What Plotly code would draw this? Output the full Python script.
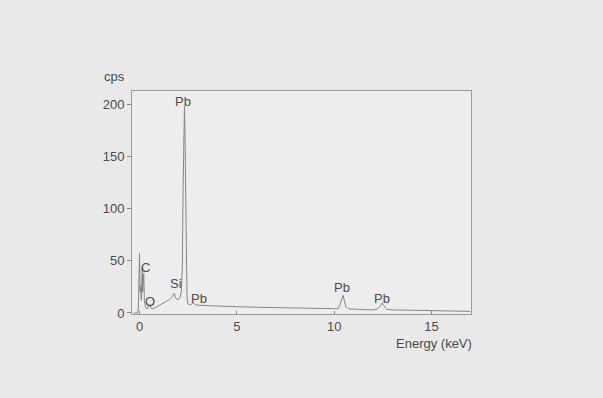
import plotly.graph_objects as go

# Spectrum (energy in keV, counts per second)
energy_kev = [-0.3, -0.1, -0.06, -0.03, 0.0, 0.03, 0.06, 0.09, 0.12, 0.14, 0.16, 0.19, 0.22, 0.25, 0.28,
              0.32, 0.4, 0.48, 0.53, 0.58, 0.68, 0.8, 1.0, 1.2, 1.4, 1.55, 1.65, 1.72, 1.78, 1.84,
              1.92, 2.0, 2.08, 2.15, 2.2, 2.24, 2.28, 2.31, 2.34, 2.37, 2.4, 2.44, 2.48, 2.55, 2.65,
              2.75, 2.85, 3.0, 3.5, 4.0, 5.0, 6.0, 7.0, 8.0, 9.0, 10.0, 10.2, 10.3, 10.4, 10.46,
              10.52, 10.6, 10.75, 11.0, 11.5, 12.0, 12.25, 12.38, 12.46, 12.55, 12.7, 13.0, 14.0,
              15.0, 16.0, 17.0]
counts_cps = [0, 0, 4, 30, 57, 20, 26, 12, 30, 44, 20, 26, 38, 12, 8,
              5, 4, 6, 8, 5, 4, 5, 7, 9, 11, 13, 15, 17, 19, 15,
              13, 13, 15, 20, 45, 120, 185, 198, 170, 100, 40, 15, 9, 8, 8,
              10, 8, 7.5, 7, 6.5, 6, 5.5, 5, 4.5, 4, 3.5, 4, 8, 14, 17,
              12, 6, 4, 3.5, 3.2, 3, 4, 7, 9.5, 7, 3.5, 3, 2.5,
              2, 1.5, 1.5]

peak_labels = ["Pb", "C", "O", "Si", "Pb", "Pb", "Pb"]
peak_label_x = [2.26, 0.3, 0.53, 1.85, 3.08, 10.41, 12.45]
peak_label_y = [203, 44, 11, 28, 14, 24, 14]

x_ticks = [0, 5, 10, 15]
y_ticks = [0, 50, 100, 150, 200]

text_col = "#4a4a4a"
line_col = "#858585"
FONT = "Liberation Sans, Arial"
FS = 13

W, H = 603, 398
ML, MR, MT, MB = 131.5, 132, 90.5, 84
PW, PH = W - ML - MR, H - MT - MB

fig = go.Figure()
fig.add_trace(go.Scatter(x=energy_kev, y=counts_cps, mode="lines",
                         line=dict(color=line_col, width=1), showlegend=False,
                         hoverinfo="skip"))

for t, x, y in zip(peak_labels, peak_label_x, peak_label_y):
    fig.add_annotation(x=x, y=y, text=t, showarrow=False, xref="x", yref="y",
                       xanchor="center", yanchor="middle",
                       font=dict(size=FS, color=text_col, family=FONT))

# axis titles placed in paper coordinates (pixel centres from the reference)
fig.add_annotation(x=(114 - ML) / PW, y=(H - 76 - MB) / PH, xref="paper", yref="paper",
                   text="cps", showarrow=False, xanchor="center", yanchor="middle",
                   font=dict(size=FS, color=text_col, family=FONT))
fig.add_annotation(x=(433.5 - ML) / PW, y=(H - 344 - MB) / PH, xref="paper", yref="paper",
                   text="Energy (keV)", showarrow=False, xanchor="center", yanchor="middle",
                   font=dict(size=FS, color=text_col, family=FONT))

fig.update_layout(
    width=W, height=H,
    margin=dict(l=ML, r=MR, t=MT, b=MB),
    paper_bgcolor="#e9e9e9", plot_bgcolor="#ededed",
    font=dict(family=FONT, size=FS, color=text_col),
    xaxis=dict(range=[-0.385, 17.03], tickvals=x_ticks, ticks="inside", ticklen=3,
               tickcolor="#888", showline=True, linecolor="#9a9a9a", linewidth=1, mirror=True,
               showgrid=False, zeroline=False, tickfont=dict(size=FS, color=text_col)),
    yaxis=dict(range=[-1, 213], tickvals=y_ticks, ticks="outside", ticklen=4,
               tickcolor="#888", showline=True, linecolor="#9a9a9a", linewidth=1, mirror=True,
               showgrid=False, zeroline=False, tickfont=dict(size=FS, color=text_col)),
)

fig.write_html("out.html", config={"displayModeBar": False},
               post_script="document.body.style.margin='0';document.body.style.background='#e9e9e9';")
